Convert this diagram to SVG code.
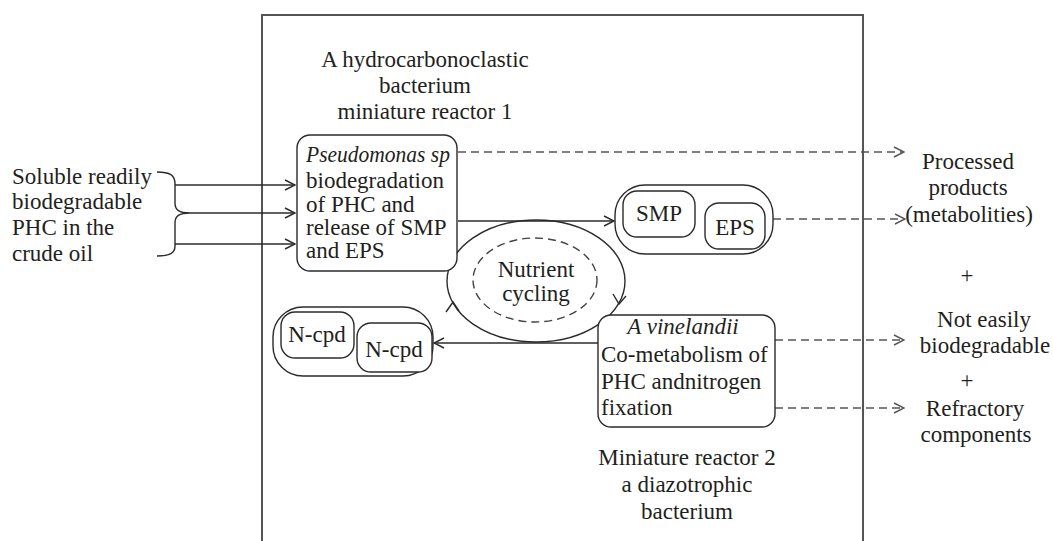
<svg xmlns="http://www.w3.org/2000/svg" width="1053" height="541" viewBox="0 0 1053 541">
<defs>
<style>
text{font-family:"Liberation Serif","Times New Roman",serif;font-size:23px;fill:#231f20}
.it{font-style:italic}
.c{text-anchor:middle}
.ln{fill:none;stroke:#2b2b2b;stroke-width:1.4}
.ds{fill:none;stroke:#555;stroke-width:1.4;stroke-dasharray:8 5}
.bx{fill:#fff;stroke:#2b2b2b;stroke-width:1.4}
</style>
<marker id="ah" viewBox="0 0 12 12" refX="11" refY="6" markerWidth="12" markerHeight="12" markerUnits="userSpaceOnUse" orient="auto">
<path d="M1,1 L11,6 L1,11" fill="none" stroke="#2b2b2b" stroke-width="1.4"/>
</marker>
<marker id="ahd" viewBox="0 0 12 12" refX="11" refY="6" markerWidth="12" markerHeight="12" markerUnits="userSpaceOnUse" orient="auto">
<path d="M1,1 L11,6 L1,11" fill="none" stroke="#555" stroke-width="1.4"/>
</marker>
</defs>
<rect width="1053" height="541" fill="#fff"/>
<path id="frame" d="M262,541 L262,15 L863,15 L863,541" fill="none" stroke="#555" stroke-width="2"/>

<g id="title1">
<text class="c" x="425" y="67">A hydrocarbonoclastic</text>
<text class="c" x="425" y="93">bacterium</text>
<text class="c" x="425" y="119">miniature reactor 1</text>
</g>
<g id="title2">
<text class="c" x="687" y="465">Miniature reactor 2</text>
<text class="c" x="687" y="492">a diazotrophic</text>
<text class="c" x="687" y="519">bacterium</text>
</g>

<g id="source">
<text x="12" y="184">Soluble readily</text>
<text x="12" y="209">biodegradable</text>
<text x="12" y="235">PHC in the</text>
<text x="12" y="261">crude oil</text>
<path class="ln" d="M157,172 C170,172 175,175 175,184 L175,203 C175,210 179,213 190,213 C179,213 175,216 175,223 L175,246 C175,253 170,256 157,256"/>
</g>

<g id="connectors">
<line class="ln" x1="175" y1="185" x2="295" y2="185" marker-end="url(#ah)"/>
<line class="ln" x1="190" y1="213" x2="295" y2="213" marker-end="url(#ah)"/>
<line class="ln" x1="175" y1="244" x2="295" y2="244" marker-end="url(#ah)"/>
<line class="ln" x1="458" y1="221" x2="614" y2="221" marker-end="url(#ah)"/>
<line class="ln" x1="598" y1="343" x2="434" y2="343" marker-end="url(#ah)"/>
<line class="ds" x1="458" y1="152" x2="904" y2="152" marker-end="url(#ahd)"/>
<line class="ds" x1="773" y1="219" x2="905" y2="219" marker-end="url(#ahd)"/>
<line class="ds" x1="775" y1="340" x2="904" y2="340" marker-end="url(#ahd)"/>
<line class="ds" x1="775" y1="408" x2="904" y2="408" marker-end="url(#ahd)"/>
</g>

<g id="cycling">
<ellipse class="ln" cx="536" cy="281" rx="89" ry="61"/>
<ellipse cx="535" cy="280" rx="62" ry="42" fill="none" stroke="#444" stroke-width="1.4" stroke-dasharray="8 5"/>
<path class="ln" d="M613,294 L619,304 L626,296"/>
<path class="ln" d="M446,312 L453,302 L459,311"/>
<text class="c" x="536" y="277">Nutrient</text>
<text class="c" x="536" y="301">cycling</text>
</g>

<g id="pseudomonas">
<rect class="bx" x="297" y="135" width="160" height="136" rx="13"/>
<text class="it" x="306" y="162" textLength="144" lengthAdjust="spacingAndGlyphs">Pseudomonas sp</text>
<text x="306" y="188">biodegradation</text>
<text x="306" y="212">of PHC and</text>
<text x="306" y="235">release of SMP</text>
<text x="306" y="258">and EPS</text>
</g>

<g id="smp-eps">
<rect class="bx" x="615" y="185" width="158" height="69" rx="30"/>
<rect class="bx" x="623" y="191" width="72" height="46" rx="14"/>
<rect class="bx" x="705" y="203" width="60" height="46" rx="14"/>
<text class="c" x="659" y="221">SMP</text>
<text class="c" x="735" y="235">EPS</text>
</g>

<g id="ncpd">
<rect class="bx" x="273" y="307" width="160" height="69" rx="30"/>
<rect class="bx" x="281" y="312" width="73" height="46" rx="14"/>
<rect class="bx" x="357" y="323" width="75" height="49" rx="14"/>
<text class="c" x="317" y="342">N-cpd</text>
<text class="c" x="394" y="357">N-cpd</text>
</g>

<g id="vinelandii">
<rect class="bx" x="598" y="315" width="177" height="112" rx="13"/>
<text class="it c" x="683" y="334">A vinelandii</text>
<text x="601" y="362">Co-metabolism of</text>
<text x="601" y="389">PHC andnitrogen</text>
<text x="601" y="415">fixation</text>
</g>

<g id="outputs">
<text class="c" x="968" y="169">Processed</text>
<text class="c" x="968" y="195">products</text>
<text class="c" x="969" y="222">(metabolities)</text>
<text class="c" x="967" y="283">+</text>
<text class="c" x="984" y="327">Not easily</text>
<text class="c" x="985" y="353">biodegradable</text>
<text class="c" x="967" y="388">+</text>
<text class="c" x="975" y="416">Refractory</text>
<text class="c" x="976" y="442">components</text>
</g>
</svg>
